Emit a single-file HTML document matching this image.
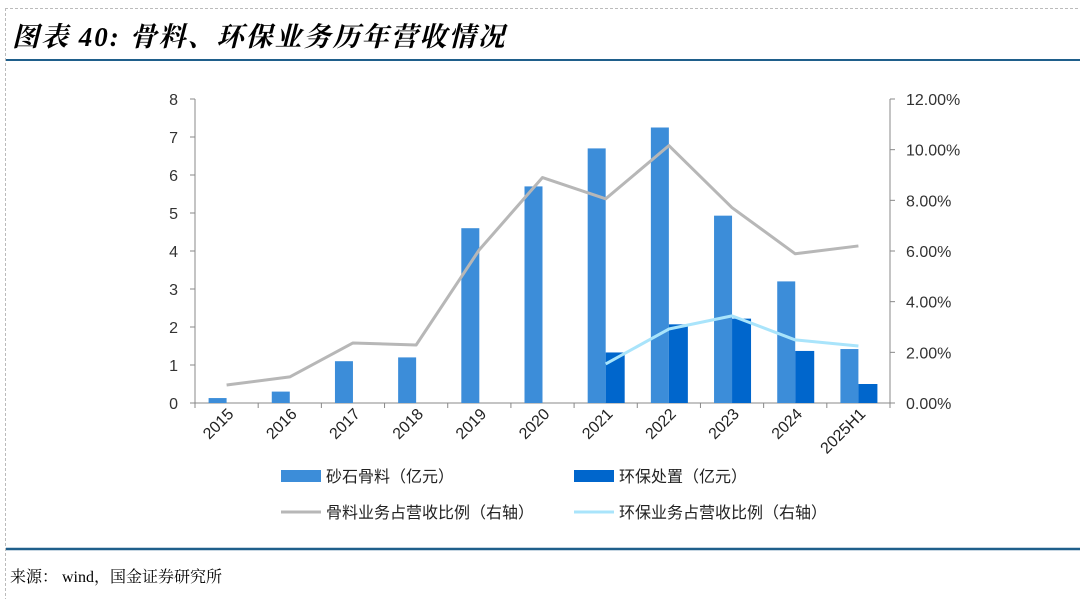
<!DOCTYPE html>
<html><head><meta charset="utf-8"><style>
body{margin:0;background:#fff;width:1080px;height:599px;overflow:hidden;font-family:"Liberation Sans","Noto Sans CJK SC",sans-serif}
</style></head><body>
<svg width="1080" height="599" xmlns="http://www.w3.org/2000/svg">
<line x1="5.5" y1="8" x2="5.5" y2="599" stroke="#bbb" stroke-dasharray="3,2"/>
<line x1="5" y1="8.5" x2="1080" y2="8.5" stroke="#bbb" stroke-dasharray="3,2"/>
<text x="12" y="46" font-size="27" letter-spacing="2" font-style="italic" font-weight="bold" font-family="'Liberation Serif','Noto Serif CJK SC',serif">图表 40:  骨料、环保业务历年营收情况</text>
<line x1="6" y1="60" x2="1080" y2="60" stroke="#1f5f8b" stroke-width="2"/>
<line x1="6" y1="549" x2="1080" y2="549" stroke="#1f5f8b" stroke-width="2.5"/>
<text x="10" y="582" font-size="16" font-family="'Liberation Serif','Noto Serif CJK SC',serif">来源： wind，国金证券研究所</text>
<g id="plot"></g>
</svg>
<script>
const categories=["2015","2016","2017","2018","2019","2020","2021","2022","2023","2024","2025H1"];
const aggregateRevenue=[0.13,0.3,1.1,1.2,4.6,5.7,6.7,7.25,4.93,3.2,1.42];
const envRevenue=[null,null,null,null,null,null,1.33,2.07,2.22,1.37,0.5];
const aggregateShare=[0.71,1.03,2.37,2.29,6.05,8.9,8.06,10.16,7.71,5.89,6.2];
const envShare=[null,null,null,null,null,null,1.54,2.92,3.44,2.49,2.25];
const leftTicks=[0,1,2,3,4,5,6,7,8];
const rightTicks=["0.00%","2.00%","4.00%","6.00%","8.00%","10.00%","12.00%"];
const NS="http://www.w3.org/2000/svg";
const g=document.getElementById('plot');
const X0=195,X1=890,Y0=403,Y1=99;
const step=(X1-X0)/categories.length;
const cx=i=>X0+(i+0.5)*step;
const yL=v=>Y0-(v/8)*(Y0-Y1);
const yR=v=>Y0-(v/12)*(Y0-Y1);
function el(t,a){const e=document.createElementNS(NS,t);for(const k in a)e.setAttribute(k,a[k]);g.appendChild(e);return e;}
let ax=el('line',{x1:X0,y1:Y1,x2:X0,y2:Y0,stroke:'#888'});


ax=el('line',{x1:X1,y1:Y1,x2:X1,y2:Y0,stroke:'#888'});


ax=el('line',{x1:X0,y1:Y0,x2:X1,y2:Y0,stroke:'#888'});


leftTicks.forEach(v=>{
  const y=yL(v);
  el('line',{x1:X0-5,y1:y,x2:X0,y2:y,stroke:'#888'});
  const t=el('text',{x:X0-17,y:y+6,'font-size':16,'text-anchor':'end',fill:'#333'});t.textContent=v;
  
  
});
rightTicks.forEach((s,i)=>{
  const y=yR(i*2);
  el('line',{x1:X1,y1:y,x2:X1+5,y2:y,stroke:'#888'});
  const t=el('text',{x:X1+16,y:y+6,'font-size':16,fill:'#333'});t.textContent=s;
  
  
});
for(let i=0;i<=categories.length;i++){el('line',{x1:X0+i*step,y1:Y0,x2:X0+i*step,y2:Y0+5,stroke:'#888'});}
categories.forEach((c,i)=>{
  const x=cx(i)+8,y=Y0+12;
  const t=el('text',{x:x,y:y,'font-size':16,'text-anchor':'end',fill:'#222',transform:`rotate(-45 ${x} ${y})`});
  t.textContent=c;
  
  
});
aggregateRevenue.forEach((v,i)=>{
  const b=el('rect',{x:cx(i)-18,y:yL(v),width:18,height:Y0-yL(v),fill:'#3c8dd9'});
  
  
});
envRevenue.forEach((v,i)=>{
  if(v==null)return;
  const b=el('rect',{x:cx(i),y:yL(v),width:19,height:Y0-yL(v),fill:'#0066cc'});
  
  
});
function line(arr,color,name){
  const pts=[];arr.forEach((v,i)=>{if(v!=null)pts.push(cx(i)+','+yR(v));});
  const p=el('polyline',{points:pts.join(' '),fill:'none',stroke:color,'stroke-width':3,'stroke-linejoin':'round'});
  
  
}
line(aggregateShare,'#b7b7b7','line-aggregate-share');
line(envShare,'#a9e4fb','line-env-share');
function legend(x,y,kind,color,label,name){
  if(kind==='bar')el('rect',{x:x,y:y-6,width:40,height:12,fill:color});
  else el('line',{x1:x,y1:y,x2:x+40,y2:y,stroke:color,'stroke-width':3});
  const t=el('text',{x:x+45,y:y+6,'font-size':16,fill:'#222'});t.textContent=label;
  
  
}
legend(281,476,'bar','#3c8dd9','砂石骨料（亿元）','legend-aggregate');
legend(574,476,'bar','#0066cc','环保处置（亿元）','legend-env');
legend(281,512,'line','#b7b7b7','骨料业务占营收比例（右轴）','legend-aggregate-share');
legend(574,512,'line','#a9e4fb','环保业务占营收比例（右轴）','legend-env-share');
</script>
</body></html>
